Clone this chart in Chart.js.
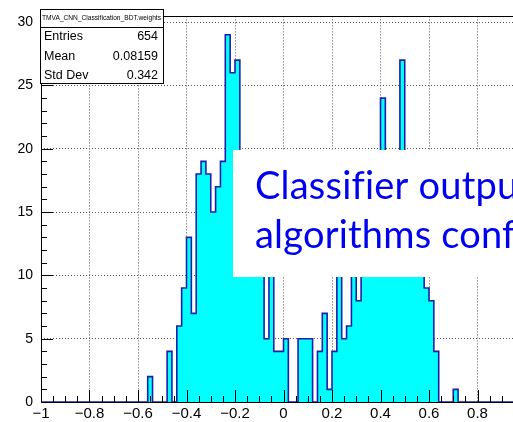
<!DOCTYPE html>
<html>
<head>
<meta charset="utf-8">
<script src="https://cdn.jsdelivr.net/npm/chart.js@4.4.1/dist/chart.umd.min.js"></script>
<style>
  html, body { margin: 0; padding: 0; overflow: hidden; background: #fff; }
  canvas { display: block; }
</style>
</head>
<body>
<canvas id="chart" width="560" height="422"></canvas>
<script>
// histogram: 100 bins from -1 to 1
const histTitle = 'TMVA_CNN_Classification_BDT.weights'
const binLow = -1
const binWidth = 0.02
const binCounts = [
  0, 0, 0, 0, 0, 0, 0, 0, 0, 0,
  0, 0, 0, 0, 0, 0, 0, 0, 0, 0,
  0, 0, 2, 0, 0, 0, 4, 0, 6, 9,
  13, 7, 18, 19, 18, 15, 17, 19, 29, 26,
  27, 18, 16, 15, 13, 11, 5, 11, 4, 4,
  5, 0, 0, 5, 5, 5, 0, 4, 7, 1,
  4, 11, 5, 6, 12, 8, 13, 15, 16, 17,
  24, 17, 18, 16, 27, 18, 17, 16, 14, 9,
  8, 4, 0, 0, 0, 1, 0, 0, 0, 0,
  0, 0, 0, 0, 0, 0, 0, 0, 0, 0
]
const statLabels = ['Entries', 'Mean', 'Std Dev']
const statValues = ['654', '0.08159', '0.342']
const noteLines = ['Classifier output', 'algorithms configured']

const points = binCounts.map((n, i) => ({ x: binLow + i * binWidth, y: n }))
points.push({ x: binLow + binCounts.length * binWidth, y: 0 })
const yMax = Math.max(...binCounts) * 1.05

const fmtX = v => {
  if (Math.abs(v) < 1e-9) return '0'
  return String(parseFloat(v.toFixed(1))).replace('-', '\u2212')
}

const rootFrame = {
  id: 'rootFrame',
  afterDatasetsDraw (chart) {
    const { ctx, chartArea: a, scales: { x, y } } = chart
    ctx.save()
    ctx.strokeStyle = '#000'
    ctx.lineWidth = 1
    ctx.beginPath()
    for (let i = 0; i <= 40; i++) {
      const px = Math.round(x.getPixelForValue(-1 + i * 0.05)) + 0.5
      const len = i % 4 === 0 ? 12 : 6
      ctx.moveTo(px, a.bottom)
      ctx.lineTo(px, a.bottom - len)
    }
    for (let v = 0; v <= 30; v++) {
      const py = Math.round(y.getPixelForValue(v)) + 0.5
      const len = v % 5 === 0 ? 12 : 6
      ctx.moveTo(a.left, py)
      ctx.lineTo(a.left + len, py)
    }
    ctx.stroke()
    ctx.strokeRect(Math.round(a.left) + 0.5, Math.round(a.top) + 0.5,
      Math.round(a.right - a.left), Math.round(a.bottom - a.top))
    ctx.restore()
  },
  afterDraw (chart) {
    const ctx = chart.ctx
    ctx.save()

    // stats box
    ctx.fillStyle = '#fff'
    ctx.fillRect(40, 9, 123, 74)
    ctx.strokeStyle = '#000'
    ctx.lineWidth = 1
    ctx.strokeRect(40.5, 9.5, 123, 74)
    ctx.beginPath()
    ctx.moveTo(40, 27.5)
    ctx.lineTo(164, 27.5)
    ctx.stroke()
    ctx.fillStyle = '#000'
    ctx.textBaseline = 'middle'
    ctx.font = '7px "Liberation Sans"'
    ctx.fillText(histTitle, 42, 18.5, 119)
    ctx.font = '12.5px "Liberation Sans"'
    statLabels.forEach((s, i) => {
      const cy = 37 + i * 19.5
      ctx.textAlign = 'left'
      ctx.fillText(s, 44, cy)
      ctx.textAlign = 'right'
      ctx.fillText(statValues[i], 158, cy)
    })

    // slide note covering part of the plot
    ctx.fillStyle = '#fff'
    ctx.fillRect(233, 150, 327, 127)
    ctx.fillStyle = '#0000f0'
    ctx.textAlign = 'left'
    ctx.textBaseline = 'alphabetic'
    ctx.font = '38px Lato'
    ctx.letterSpacing = '0.2px' // keeps "f" and "i" apart, as in the slide
    ctx.fillText(noteLines[0], 255, 199)
    ctx.fillText(noteLines[1], 255, 248)
    ctx.restore()
  }
}

new Chart(document.getElementById('chart'), {
  type: 'line',
  data: {
    datasets: [{
      data: points,
      stepped: 'before',
      fill: 'origin',
      backgroundColor: '#00ffff',
      borderColor: '#1e1eaa',
      borderWidth: 1.6,
      pointRadius: 0,
      clip: 0
    }]
  },
  options: {
    responsive: false,
    animation: false,
    layout: { padding: { top: 7, right: 34 } },
    plugins: {
      legend: { display: false },
      tooltip: { enabled: false }
    },
    scales: {
      x: {
        type: 'linear',
        min: -1,
        max: 1,
        afterFit: s => { s.height = 20 },
        ticks: {
          stepSize: 0.2,
          autoSkip: false,
          maxRotation: 0,
          padding: 3,
          color: '#000',
          font: { family: 'Liberation Sans', size: 15 },
          callback: v => fmtX(v)
        },
        grid: { color: '#555', drawTicks: false },
        border: { display: false, dash: [1, 2] }
      },
      y: {
        min: 0,
        max: yMax,
        afterFit: s => { s.width = 41 },
        ticks: {
          stepSize: 5,
          includeBounds: false,
          padding: 8,
          color: '#000',
          font: { family: 'Liberation Sans', size: 14 }
        },
        grid: { color: '#555', drawTicks: false },
        border: { display: false, dash: [1, 2] }
      }
    }
  },
  plugins: [rootFrame]
})
</script>
</body>
</html>
